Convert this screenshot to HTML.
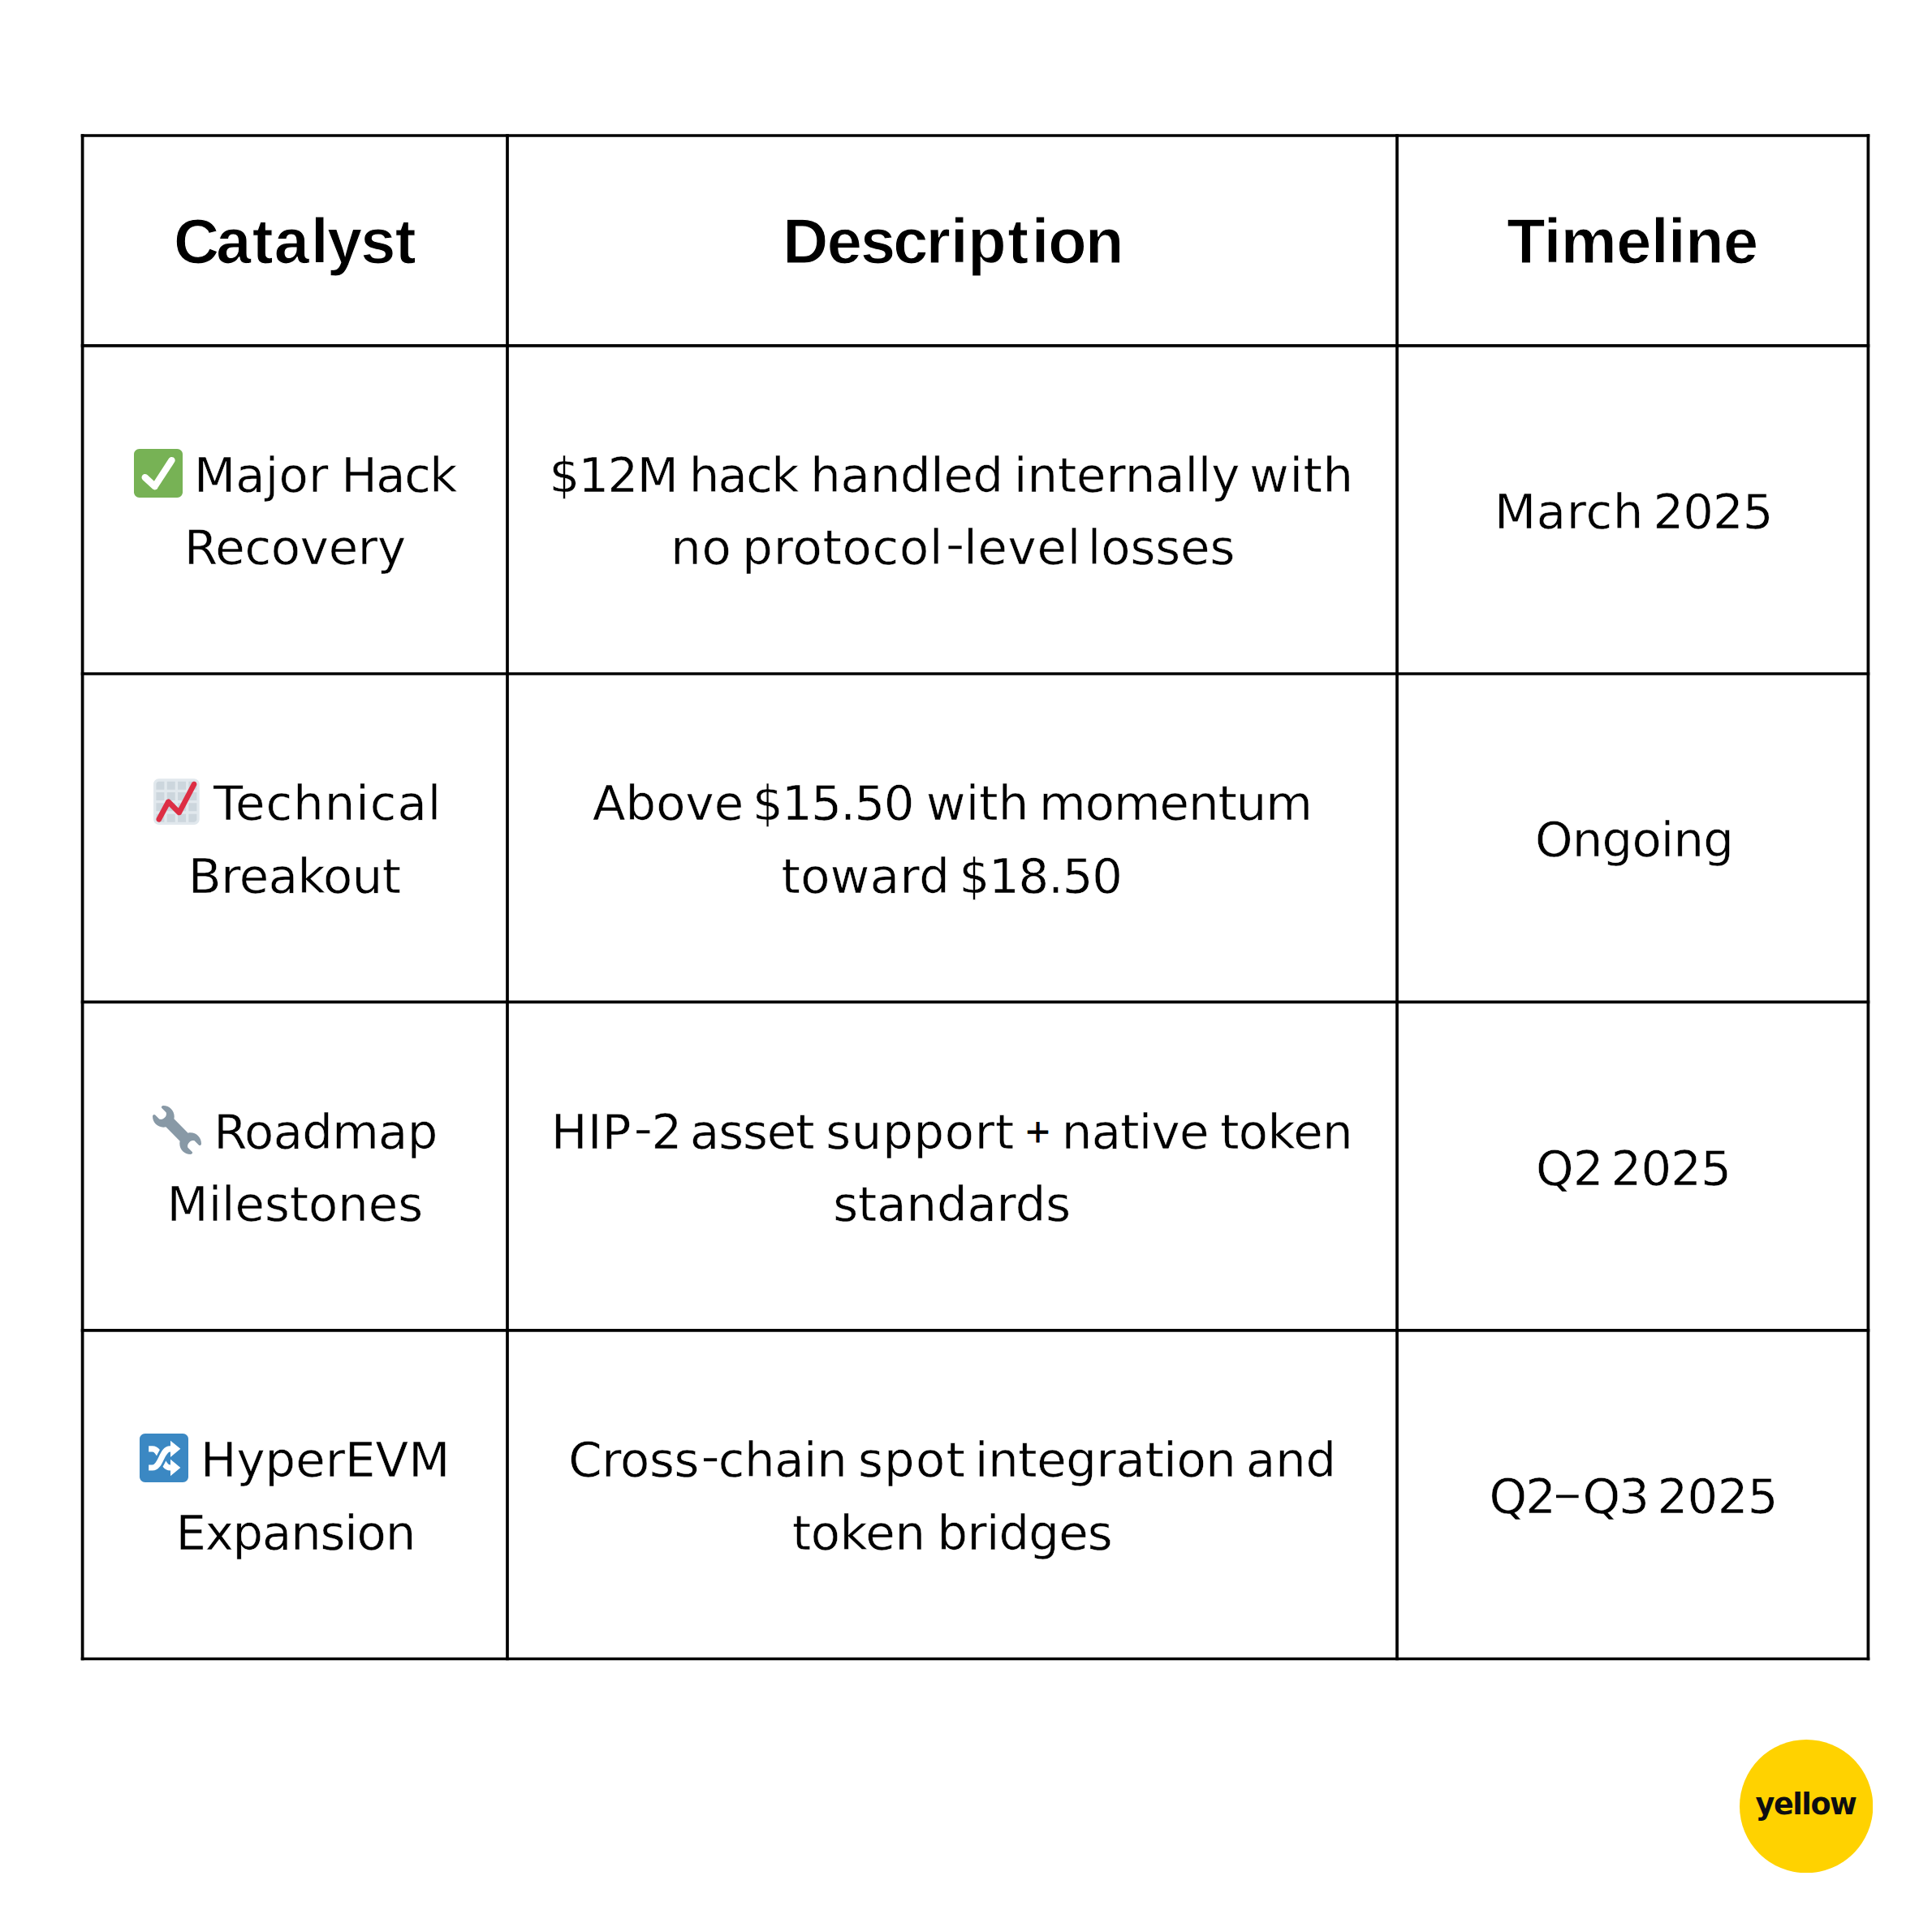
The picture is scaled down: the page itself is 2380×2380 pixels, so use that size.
<!DOCTYPE html>
<html lang="en">
<head>
<meta charset="utf-8">
<title>Catalyst table</title>
<style>

html,body{margin:0;padding:0;background:#fff}
body{width:2380px;height:2380px;position:relative;font-family:"DejaVu Sans","Liberation Sans",sans-serif;color:#000}
.grid{position:absolute;left:0;top:0;width:2380px;height:2380px;pointer-events:none}
table{position:absolute;left:0;top:0;border-collapse:collapse;border-spacing:0;table-layout:fixed}
th,td{position:absolute;padding:0;margin:0;text-align:center;box-sizing:border-box;display:flex;flex-direction:column;justify-content:center;align-items:center;overflow:visible}
.ln{display:block;position:relative;white-space:nowrap}
.b{font-size:59.19px;line-height:89.6px;height:89.6px;font-weight:400;top:4.4px;-webkit-text-stroke:0.5px #fff;word-spacing:-6px}
.h{font-family:"Liberation Sans","DejaVu Sans",sans-serif;font-size:77.5px;line-height:104px;height:104px;font-weight:700;top:1.0px;-webkit-text-stroke:1.1px #fff}
.w{display:inline-block}
.hy{font-size:1.13em;line-height:0;-webkit-text-stroke:1.3px #fff;position:relative;top:-2.0px;left:2.2px}
.d{font-size:1.22em;line-height:0;-webkit-text-stroke:1.3px #fff;position:relative;top:-0.9px;left:-2.5px}
.em{width:60px;height:60px;display:inline-block;vertical-align:-6.3px;overflow:visible}
.logo{position:absolute;left:2142.55px;top:2142.55px;width:164.3px;height:164.3px}

</style>
</head>
<body>
<svg class="grid" viewBox="0 0 2380 2380" aria-hidden="true"><g stroke="#000" stroke-width="3.73" stroke-linecap="square" fill="none"><line x1="101.6" y1="167.0" x2="101.6" y2="2043.5"/><line x1="625.0" y1="167.0" x2="625.0" y2="2043.5"/><line x1="1721.0" y1="167.0" x2="1721.0" y2="2043.5"/><line x1="2301.4" y1="167.0" x2="2301.4" y2="2043.5"/><line x1="101.6" y1="167.0" x2="2301.4" y2="167.0"/><line x1="101.6" y1="425.8" x2="2301.4" y2="425.8"/><line x1="101.6" y1="830.0" x2="2301.4" y2="830.0"/><line x1="101.6" y1="1234.4" x2="2301.4" y2="1234.4"/><line x1="101.6" y1="1638.9" x2="2301.4" y2="1638.9"/><line x1="101.6" y1="2043.5" x2="2301.4" y2="2043.5"/></g></svg>
<table>
<thead><tr>
<th style="left:101.60px;top:167.00px;width:523.40px;height:258.80px"><span class="ln h" style="left:-0.21px"><span class="w" style="letter-spacing:-0.429px"><span style="letter-spacing:-3.629px">C</span><span style="letter-spacing:1.371px">a</span><span style="letter-spacing:0.971px">t</span><span style="letter-spacing:2.271px">a</span><span style="letter-spacing:-1.629px">l</span><span style="letter-spacing:-1.829px">y</span><span style="letter-spacing:-0.529px">s</span>t</span></span></th>
<th style="left:625.00px;top:167.00px;width:1096.00px;height:258.80px"><span class="ln h" style="left:0.87px"><span class="w" style="letter-spacing:-0.750px"><span style="letter-spacing:-1.250px">D</span><span style="letter-spacing:-1.950px">e</span><span style="letter-spacing:-2.750px">sc</span><span style="letter-spacing:0.000px">r</span><span style="letter-spacing:-0.250px">i</span><span style="letter-spacing:1.750px">p</span><span style="letter-spacing:3.750px">t</span><span style="letter-spacing:-1.250px">i</span><span style="letter-spacing:-1.500px">o</span>n</span></span></th>
<th style="left:1721.00px;top:167.00px;width:580.40px;height:258.80px"><span class="ln h" style="left:-0.21px"><span class="w" style="letter-spacing:-0.429px">Timeline</span></span></th>
</tr></thead>
<tbody>
<tr>
<td style="left:101.60px;top:425.80px;width:523.40px;height:404.20px"><span class="ln b" style="left:0.18px;top:2.40px"><svg class="em" style="margin-right:14.20px;vertical-align:-7.3px" viewBox="0 0 36 36" role="img" aria-label="check mark button"><title>✅</title><path fill="#77B255" d="M36 32c0 2.209-1.791 4-4 4H4c-2.209 0-4-1.791-4-4V4c0-2.209 1.791-4 4-4h28c2.209 0 4 1.791 4 4v28z"/><path fill="#FFF" d="M29.28 6.362c-1.156-.751-2.704-.422-3.458.736L14.936 23.877l-5.029-4.65c-1.014-.938-2.596-.875-3.533.138-.937 1.014-.875 2.596.139 3.533l7.209 6.666c.48.445 1.09.665 1.696.665.673 0 1.534-.282 2.099-1.139.332-.506 12.5-19.27 12.5-19.27.751-1.159.421-2.707-.737-3.458z"/></svg><span class="w" style="letter-spacing:0.222px">Major</span> <span class="w" style="letter-spacing:-1.444px;margin-left:3.00px">Hack</span></span>
<span class="ln b" style="left:0.14px;top:2.40px"><span class="w" style="letter-spacing:-0.214px">Recovery</span></span></td>
<td style="left:625.00px;top:425.80px;width:1096.00px;height:404.20px"><span class="ln b" style="left:-0.88px;top:2.40px"><span class="w" style="letter-spacing:-1.589px">$12M</span> <span class="w" style="letter-spacing:-1.589px;margin-left:1.67px">hack</span> <span class="w" style="letter-spacing:-0.255px;margin-left:2.67px">handled</span> <span class="w" style="letter-spacing:-0.033px;margin-left:0.33px">internally</span> <span class="w" style="letter-spacing:0.745px;margin-left:-0.89px">with</span></span>
<span class="ln b" style="left:0.75px;top:2.40px"><span class="w" style="letter-spacing:0.804px">no</span> <span class="w" style="letter-spacing:0.804px">protocol<span class="hy">-</span>level</span> <span class="w" style="letter-spacing:0.004px;margin-left:-5.00px">losses</span></span></td>
<td style="left:1721.00px;top:425.80px;width:580.40px;height:404.20px"><span class="ln b" style="left:1.06px;top:3.40px"><span class="w" style="letter-spacing:0.694px">March</span> <span class="w" style="letter-spacing:-0.889px;margin-left:-1.25px">2025</span></span></td>
</tr>
<tr>
<td style="left:101.60px;top:830.00px;width:523.40px;height:404.40px"><span class="ln b" style="left:2.58px;top:2.40px"><svg class="em" style="margin-right:15.40px;vertical-align:-7.5px;transform:translate(-0.6px,0.7px)" viewBox="0 0 36 36" role="img" aria-label="chart increasing"><title>📈</title><path fill="#CCD6DD" d="M31 2H5C3.343 2 2 3.343 2 5v26c0 1.657 1.343 3 3 3h26c1.657 0 3-1.343 3-3V5c0-1.657-1.343-3-3-3z"/><path fill="#E1E8ED" d="M31 1H5C2.791 1 1 2.791 1 5v26c0 2.209 1.791 4 4 4h26c2.209 0 4-1.791 4-4V5c0-2.209-1.791-4-4-4zm0 2c1.103 0 2 .897 2 2v4h-6V3h4zm-4 16h6v6h-6v-6zm0-2v-6h6v6h-6zM25 3v6h-6V3h6zm-6 8h6v6h-6v-6zm0 8h6v6h-6v-6zM17 3v6h-6V3h6zm-6 8h6v6h-6v-6zm0 8h6v6h-6v-6zM3 5c0-1.103.897-2 2-2h4v6H3V5zm0 6h6v6H3v-6zm0 8h6v6H3v-6zm2 14c-1.103 0-2-.897-2-2v-4h6v6H5zm6 0v-6h6v6h-6zm8 0v-6h6v6h-6zm12 0h-4v-6h6v4c0 1.103-.897 2-2 2z"/><path fill="#DD2E44" d="M4.998 33c-.32 0-.645-.076-.946-.239-.973-.523-1.336-1.736-.813-2.709l7-13c.299-.557.845-.939 1.47-1.031.626-.092 1.258.118 1.705.565l6.076 6.076 9.738-18.59c.512-.978 1.721-1.357 2.699-.843.979.512 1.356 1.721.844 2.7l-11 21c-.295.564-.841.953-1.47 1.05-.627.091-1.266-.113-1.716-.563l-6.1-6.099-5.724 10.631C6.4 32.619 5.71 33 4.998 33z"/></svg><span class="w" style="letter-spacing:1.063px">Technical</span></span>
<span class="ln b" style="left:-0.50px;top:2.40px"><span class="w" style="letter-spacing:-0.500px">Breakout</span></span></td>
<td style="left:625.00px;top:830.00px;width:1096.00px;height:404.40px"><span class="ln b" style="left:0.01px;top:2.40px"><span class="w" style="letter-spacing:0.130px">Above</span> <span class="w" style="letter-spacing:-1.520px;margin-left:-2.25px">$15.50</span> <span class="w" style="letter-spacing:0.213px;margin-left:3.40px">with</span> <span class="w" style="letter-spacing:-0.977px;margin-left:-0.33px">momentum</span></span>
<span class="ln b" style="left:-0.81px;top:2.40px"><span class="w" style="letter-spacing:0.475px">toward</span> <span class="w" style="letter-spacing:-1.125px;margin-left:-1.60px">$18.50</span></span></td>
<td style="left:1721.00px;top:830.00px;width:580.40px;height:404.40px"><span class="ln b" style="left:1.88px;top:2.40px"><span class="w" style="letter-spacing:-0.750px">Ongoing</span></span></td>
</tr>
<tr>
<td style="left:101.60px;top:1234.40px;width:523.40px;height:404.50px"><span class="ln b" style="left:-0.13px;top:3.40px"><svg class="em" style="margin-right:15.60px;vertical-align:-6.5px" viewBox="0 0 36 36" role="img" aria-label="wrench"><title>🔧</title><path fill="#8899A6" d="M27.989 19.977c-.622 0-1.225.078-1.806.213L15.811 9.818c.134-.581.212-1.184.212-1.806C16.023 3.587 12.436 0 8.012 0 7.11 0 5.91.916 6.909 1.915l2.997 2.997s.999 1.998-.999 3.995-3.996.998-3.996.998L1.915 6.909C.916 5.91 0 7.105 0 8.012c0 4.425 3.587 8.012 8.012 8.012.622 0 1.225-.078 1.806-.212l10.371 10.371c-.135.581-.213 1.184-.213 1.806 0 4.425 3.588 8.012 8.012 8.012.901 0 2.101-.916 1.102-1.915l-2.997-2.997s-.999-1.998.999-3.996 3.995-.999 3.995-.999l2.997 2.997c1 .999 1.916-.196 1.916-1.102 0-4.425-3.587-8.012-8.011-8.012z"/></svg><span class="w" style="letter-spacing:-0.667px">Roadmap</span></span>
<span class="ln b" style="left:0.00px;top:2.40px"><span class="w" style="letter-spacing:0.000px">Milestones</span></span></td>
<td style="left:625.00px;top:1234.40px;width:1096.00px;height:404.50px"><span class="ln b" style="left:-0.52px;top:3.40px"><span class="w" style="letter-spacing:0.455px">HIP<span class="hy">-</span>2</span> <span class="w" style="letter-spacing:-1.045px;margin-left:-3.50px">asset</span> <span class="w" style="letter-spacing:0.788px;margin-left:2.00px">support</span> <span class="w" style="letter-spacing:-0.045px;margin-left:-0.83px;font-size:39.40px;position:relative;top:-8.95px;line-height:1;-webkit-text-stroke:0.8px #000">+</span> <span class="w" style="letter-spacing:-0.645px">native</span> <span class="w" style="letter-spacing:-0.545px;margin-left:1.60px">token</span></span>
<span class="ln b" style="left:-0.28px;top:2.40px"><span class="w" style="letter-spacing:-0.063px">standards</span></span></td>
<td style="left:1721.00px;top:1234.40px;width:580.40px;height:404.50px"><span class="ln b" style="left:0.87px;top:3.40px"><span class="w" style="letter-spacing:-0.750px">Q2</span> <span class="w" style="letter-spacing:-0.750px;margin-left:-3.00px">2025</span></span></td>
</tr>
<tr>
<td style="left:101.60px;top:1638.90px;width:523.40px;height:404.60px"><span class="ln b" style="left:-0.21px;top:2.40px"><svg class="em" style="margin-right:15.00px;vertical-align:-7.3px" viewBox="0 0 36 36" role="img" aria-label="shuffle tracks button"><title>🔀</title><path fill="#3B88C3" d="M36 32c0 2.209-1.791 4-4 4H4c-2.209 0-4-1.791-4-4V4c0-2.209 1.791-4 4-4h28c2.209 0 4 1.791 4 4v28z"/><g fill="none" stroke-linejoin="round"><path stroke="#FFF" stroke-width="4.3" d="M6.7 11.3h2.8c6.5 0 6.5 13.9 13 13.9h1.5"/><path stroke="#3B88C3" stroke-width="7.7" d="M8.7 25.2h.8c6.5 0 6.5-13.9 13-13.9h.5"/><path stroke="#FFF" stroke-width="4.3" d="M6.7 25.2h2.8c6.5 0 6.5-13.9 13-13.9h1.5"/></g><path fill="#FFF" d="M22.8 5.2l7.4 6.1-7.4 6.1zM22.8 19.1l7.4 6.1-7.4 6.1z"/></svg><span class="w" style="letter-spacing:0.071px">HyperEVM</span></span>
<span class="ln b" style="left:0.44px;top:2.40px"><span class="w" style="letter-spacing:-1.125px">Expansion</span></span></td>
<td style="left:625.00px;top:1638.90px;width:1096.00px;height:404.60px"><span class="ln b" style="left:0.19px;top:2.40px"><span class="w" style="letter-spacing:-0.329px">Cross<span class="hy">-</span>chain</span> <span class="w" style="letter-spacing:1.371px;margin-left:0.70px">spot</span> <span class="w" style="letter-spacing:-0.329px;margin-left:-2.00px">integration</span> <span class="w" style="letter-spacing:-0.129px;margin-left:-0.30px">and</span></span>
<span class="ln b" style="left:-0.15px;top:2.40px"><span class="w" style="letter-spacing:-0.375px">token</span> <span class="w" style="letter-spacing:-0.792px;margin-left:2.25px">bridges</span></span></td>
<td style="left:1721.00px;top:1638.90px;width:580.40px;height:404.60px"><span class="ln b" style="left:0.94px;top:2.40px"><span class="w" style="letter-spacing:-1.778px">Q2<span class="d">–</span>Q3</span> <span class="w" style="letter-spacing:-0.611px;margin-left:-1.50px">2025</span></span></td>
</tr>
</tbody></table>
<svg class="logo" viewBox="0 0 164.3 164.3" role="img" aria-label="yellow"><circle cx="82.15" cy="82.15" r="82.15" fill="#FFD200"/><text x="19.5" y="92.45" font-family="DejaVu Sans, Liberation Sans, sans-serif" font-weight="700" font-size="36.6" letter-spacing="-1.45" fill="#0d0d12">yellow</text></svg>
</body>
</html>
